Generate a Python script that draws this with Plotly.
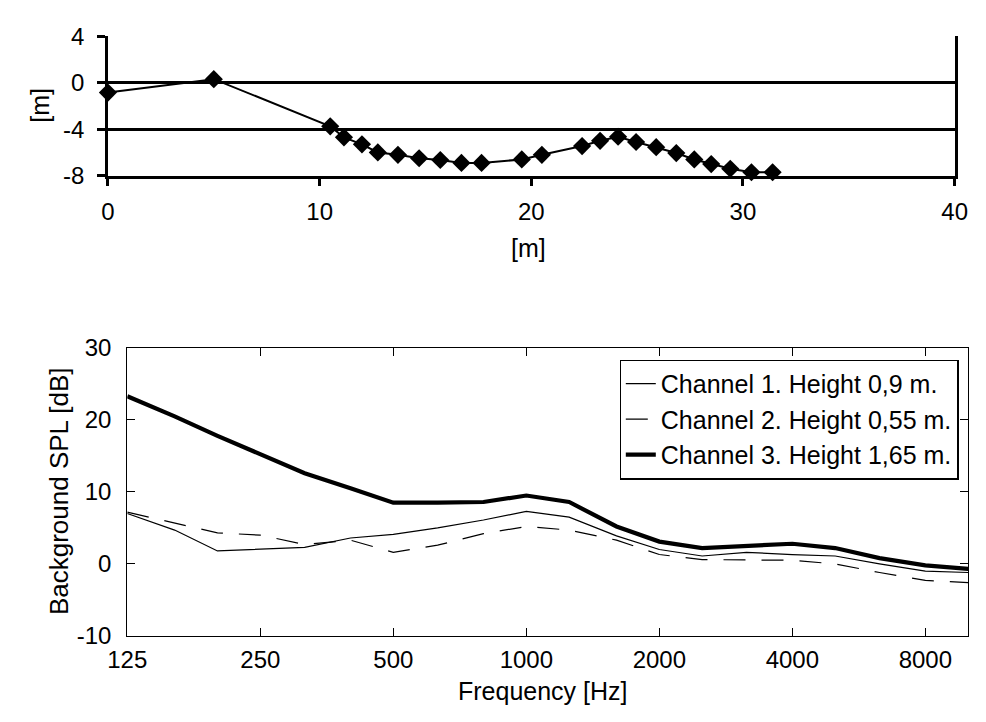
import plotly.graph_objects as go

# ---- top panel: profile ----
dist_m = [0, 5, 10.5, 11.15, 12.0, 12.75, 13.7, 14.7, 15.7, 16.7, 17.65,
          19.55, 20.5, 22.4, 23.25, 24.1, 24.95, 25.9, 26.85, 27.7, 28.5,
          29.4, 30.4, 31.4]
depth_m = [-0.85, 0.3, -3.75, -4.7, -5.3, -6.0, -6.2, -6.5, -6.65, -6.9, -6.9,
           -6.6, -6.2, -5.45, -5.0, -4.65, -5.1, -5.55, -6.05, -6.6, -7.0,
           -7.4, -7.7, -7.7]
top_xticks = [0, 10, 20, 30, 40]
top_yticks = [4, 0, -4, -8]
top_yticktext = ["4", "0", "-4", "-8"]

# ---- bottom panel: background SPL ----
freq_hz = [125, 160, 200, 250, 315, 400, 500, 630, 800, 1000, 1250, 1600,
           2000, 2500, 3150, 4000, 5000, 6300, 8000, 10000]
ch1_db = [7.0, 4.7, 1.8, 2.0, 2.3, 3.6, 4.1, 5.0, 6.1, 7.3, 6.5, 3.9,
          2.0, 1.1, 1.6, 1.3, 1.1, 0.0, -1.0, -1.2]
ch2_db = [7.2, 5.7, 4.3, 4.0, 2.7, 3.3, 1.6, 2.6, 4.2, 5.2, 4.7, 3.3,
          1.3, 0.6, 0.6, 0.5, 0.0, -1.2, -2.3, -2.6]
ch3_db = [23.3, 20.5, 17.8, 15.3, 12.6, 10.5, 8.5, 8.5, 8.6, 9.5, 8.6, 5.2,
          3.1, 2.2, 2.5, 2.8, 2.2, 0.8, -0.2, -0.7]
series_names = ["Channel 1. Height 0,9 m.",
                "Channel 2. Height 0,55 m.",
                "Channel 3. Height 1,65 m."]
freq_ticks = [125, 250, 500, 1000, 2000, 4000, 8000]
spl_ticks = [-10, 0, 10, 20, 30]
spl_ticktext = ["-10", "0", "10", "20", "30"]

W, H = 986, 722
FONT = "Liberation Sans, Arial, Helvetica, sans-serif"


def px_x(p):
    return p / W


def px_y(p):
    return 1 - p / H


fig = go.Figure()

fig.add_trace(go.Scatter(
    x=dist_m, y=depth_m, mode="lines+markers",
    line=dict(color="black", width=2),
    marker=dict(symbol="diamond", size=14, color="black"),
    cliponaxis=False, showlegend=False, xaxis="x", yaxis="y"))

fig.add_trace(go.Scatter(
    x=freq_hz, y=ch1_db, mode="lines", name=series_names[0],
    line=dict(color="black", width=1.2), xaxis="x2", yaxis="y2"))
fig.add_trace(go.Scatter(
    x=freq_hz, y=ch2_db, mode="lines", name=series_names[1],
    line=dict(color="black", width=1.2, dash="22px,16px"),
    xaxis="x2", yaxis="y2"))
fig.add_trace(go.Scatter(
    x=freq_hz, y=ch3_db, mode="lines", name=series_names[2],
    line=dict(color="black", width=4.2), xaxis="x2", yaxis="y2"))

tickfont = dict(family=FONT, size=24, color="black")


def label(text, x, y, angle=0, size=25):
    return dict(text=text, x=px_x(x), y=px_y(y), xref="paper", yref="paper",
                xanchor="center", yanchor="middle", showarrow=False,
                textangle=angle,
                font=dict(family=FONT, size=size, color="black"))


fig.update_layout(
    width=W, height=H,
    margin=dict(l=0, r=0, t=0, b=0),
    paper_bgcolor="white", plot_bgcolor="white",
    font=dict(family=FONT, color="black"),
    xaxis=dict(
        domain=[px_x(91), px_x(967)], range=[0, 40],
        tickvals=top_xticks, ticks="outside", ticklen=8, tickwidth=2.5,
        tickcolor="black", showline=True, linecolor="black", linewidth=2.5,
        mirror=False, showgrid=False, zeroline=False, tickfont=tickfont,
        ticklabelstandoff=5, anchor="y"),
    yaxis=dict(
        domain=[px_y(168), px_y(23)], range=[-8, 4],
        tickvals=top_yticks, ticktext=top_yticktext,
        ticks="outside", ticklen=8, tickwidth=2.5, tickcolor="black",
        showline=True, linecolor="black", linewidth=2.5, mirror=True,
        showgrid=True, gridcolor="black", gridwidth=2.5, zeroline=False,
        tickfont=tickfont, ticklabelstandoff=8, anchor="x"),
    xaxis2=dict(
        domain=[px_x(111), px_x(981)], type="log",
        range=[2.09691, 4.0], tickvals=freq_ticks,
        ticktext=[str(v) for v in freq_ticks],
        ticks="inside", ticklen=8, tickwidth=1.3, tickcolor="black",
        showline=True, linecolor="black", linewidth=1.3, mirror="ticks",
        showgrid=False, zeroline=False, tickfont=tickfont,
        ticklabelstandoff=2, anchor="y2"),
    yaxis2=dict(
        domain=[px_y(646), px_y(347)], range=[-10, 30],
        tickvals=spl_ticks, ticktext=spl_ticktext,
        ticks="inside", ticklen=8, tickwidth=1.3, tickcolor="black",
        showline=True, linecolor="black", linewidth=1.3, mirror="ticks",
        showgrid=False, zeroline=False, tickfont=tickfont,
        ticklabelstandoff=10, anchor="x2"),
    legend=dict(
        x=px_x(971), y=px_y(359), xanchor="right", yanchor="top",
        bgcolor="white", bordercolor="black", borderwidth=1.3,
        font=dict(family=FONT, size=25, color="black"),
        tracegroupgap=0),
    annotations=[
        label("[m]", 21, 95, angle=-90),
        label("[m]", 526, 243),
        label("Background SPL [dB]", 41, 496, angle=-90, size=26),
        label("Frequency [Hz]", 541, 703),
    ],
)

fig.write_html("out.html")
